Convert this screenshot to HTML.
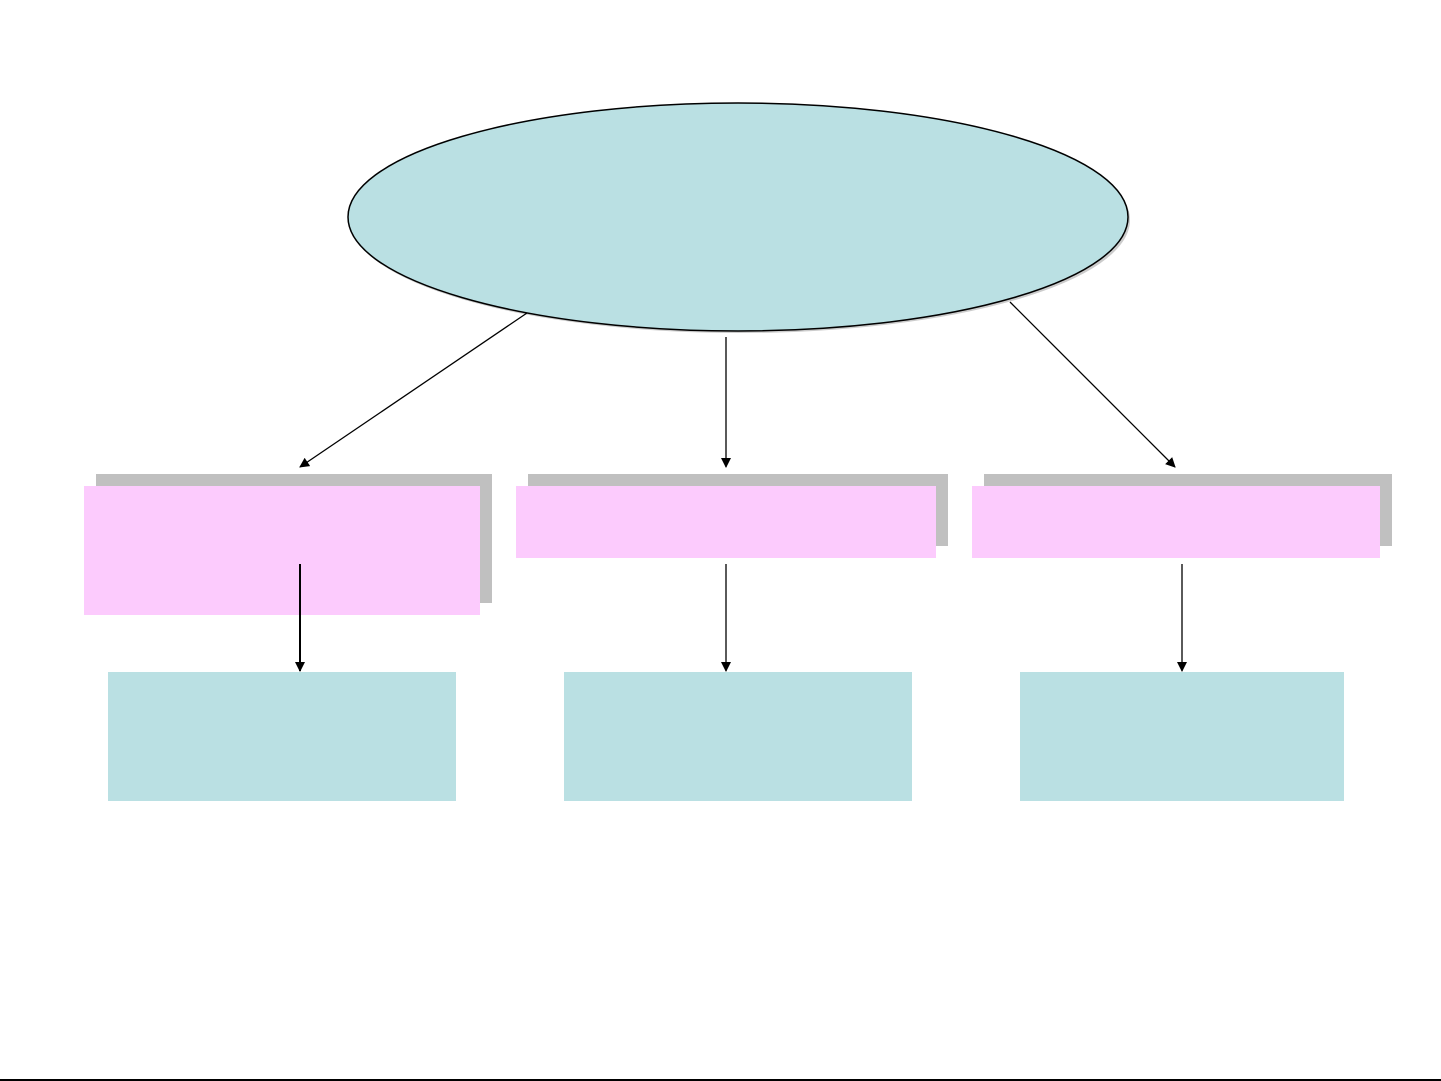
<!DOCTYPE html>
<html><head><style>html,body{margin:0;padding:0;background:#fff;width:1441px;height:1081px;overflow:hidden}</style></head>
<body>
<svg width="1441" height="1081" viewBox="0 0 1441 1081" xmlns="http://www.w3.org/2000/svg">
<defs><marker id="a" markerWidth="10" markerHeight="10" refX="9" refY="5" orient="auto" markerUnits="userSpaceOnUse"><path d="M0,0 L10,5 L0,10 z" fill="#000"/></marker></defs>
<ellipse cx="740" cy="220" rx="390" ry="113" fill="#999" opacity="0.5"/>
<ellipse cx="738" cy="217" rx="390" ry="114" fill="#bae0e3" stroke="#000" stroke-width="1.5"/>
<rect x="96" y="474" width="396" height="129" fill="#c0c0c0"/>
<rect x="84" y="486" width="396" height="129" fill="#fccbfd"/>
<rect x="528" y="474" width="420" height="72" fill="#c0c0c0"/>
<rect x="516" y="486" width="420" height="72" fill="#fccbfd"/>
<rect x="984" y="474" width="408" height="72" fill="#c0c0c0"/>
<rect x="972" y="486" width="408" height="72" fill="#fccbfd"/>
<rect x="108" y="672" width="348" height="129" fill="#bae0e3"/>
<rect x="564" y="672" width="348" height="129" fill="#bae0e3"/>
<rect x="1020" y="672" width="324" height="129" fill="#bae0e3"/>
<g stroke="#000" stroke-width="1.3" marker-end="url(#a)">
<line x1="527" y1="313" x2="300" y2="467"/>
<line x1="726" y1="337" x2="726" y2="467"/>
<line x1="1010" y1="302" x2="1175" y2="467"/>
<line x1="300" y1="564" x2="300" y2="671" stroke-width="2"/>
<line x1="726" y1="564" x2="726" y2="671"/>
<line x1="1182" y1="564" x2="1182" y2="671"/>
</g>
<line x1="0" y1="1080" x2="1441" y2="1080" stroke="#000" stroke-width="2"/>
</svg>
</body></html>
